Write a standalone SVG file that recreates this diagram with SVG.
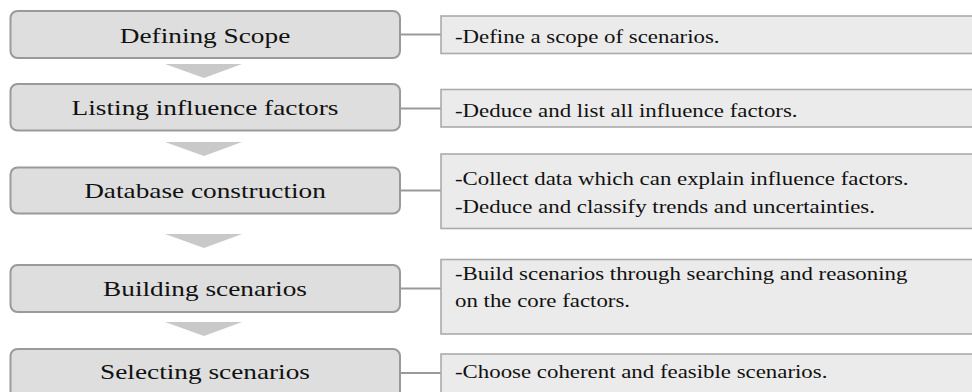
<svg xmlns="http://www.w3.org/2000/svg" width="972" height="392" viewBox="0 0 972 392">
  <style>
    .step rect { fill: #dedede; stroke: #9a9a9a; stroke-width: 2; }
    .note rect { fill: #ebebeb; stroke: #ababab; stroke-width: 1.6; }
    .link { stroke: #9a9a9a; stroke-width: 2; fill: none; }
    .flow { fill: #c9c9c9; }
    text { font-family: 'Liberation Serif', 'Times New Roman', Times, serif; fill: #111; }
    .stepText { font-size: 21.5px; text-anchor: middle; }
    .noteText { font-size: 18px; }
  </style>
  <rect width="972" height="392" fill="#ffffff"/>

  <!-- flow arrows between steps -->
  <g id="flow-arrows">
    <polygon class="flow" points="165,64 242,64 204,78"/>
    <polygon class="flow" points="165,142 242,142 204,156"/>
    <polygon class="flow" points="165,234 242,234 204,248"/>
    <polygon class="flow" points="165,322 242,322 204,336"/>
  </g>

  <!-- connectors from steps to descriptions -->
  <g id="connectors">
    <line class="link" x1="400" y1="34.5" x2="441" y2="34.5"/>
    <line class="link" x1="400" y1="108.5" x2="441" y2="108.5"/>
    <line class="link" x1="400" y1="190.5" x2="441" y2="190.5"/>
    <line class="link" x1="400" y1="288.5" x2="441" y2="288.5"/>
    <line class="link" x1="400" y1="373" x2="441" y2="373"/>
  </g>

  <!-- steps -->
  <g id="step-scope" class="step">
    <rect x="10.5" y="11" width="389.5" height="47" rx="7"/>
    <text class="stepText" font-family="Liberation Serif, serif" transform="translate(205,42.7) scale(1.27,1)">Defining Scope</text>
  </g>
  <g id="step-factors" class="step">
    <rect x="10.5" y="84" width="389.5" height="46.5" rx="7"/>
    <text class="stepText" font-family="Liberation Serif, serif" transform="translate(205,114.5) scale(1.27,1)">Listing influence factors</text>
  </g>
  <g id="step-database" class="step">
    <rect x="10.5" y="167.5" width="389.5" height="46" rx="7"/>
    <text class="stepText" font-family="Liberation Serif, serif" transform="translate(205,198.3) scale(1.27,1)">Database construction</text>
  </g>
  <g id="step-building" class="step">
    <rect x="10.5" y="265" width="389.5" height="47" rx="7"/>
    <text class="stepText" font-family="Liberation Serif, serif" transform="translate(205,295.5) scale(1.27,1)">Building scenarios</text>
  </g>
  <g id="step-selecting" class="step">
    <rect x="10.5" y="349" width="389.5" height="60" rx="7"/>
    <text class="stepText" font-family="Liberation Serif, serif" transform="translate(205,378.5) scale(1.27,1)">Selecting scenarios</text>
  </g>

  <!-- descriptions -->
  <g id="note-scope" class="note">
    <rect x="441" y="16" width="560" height="37.5"/>
    <text class="noteText" font-family="Liberation Serif, serif" transform="translate(455,43.3) scale(1.27,1)">-Define a scope of scenarios.</text>
  </g>
  <g id="note-factors" class="note">
    <rect x="441" y="89.5" width="560" height="37.5"/>
    <text class="noteText" font-family="Liberation Serif, serif" transform="translate(455,116.7) scale(1.27,1)">-Deduce and list all influence factors.</text>
  </g>
  <g id="note-database" class="note">
    <rect x="441" y="154" width="560" height="74.5"/>
    <text class="noteText" font-family="Liberation Serif, serif" transform="translate(455,185) scale(1.27,1)">-Collect data which can explain influence factors.</text>
    <text class="noteText" font-family="Liberation Serif, serif" transform="translate(455,213.3) scale(1.27,1)">-Deduce and classify trends and uncertainties.</text>
  </g>
  <g id="note-building" class="note">
    <rect x="441" y="259.5" width="560" height="74.5"/>
    <text class="noteText" font-family="Liberation Serif, serif" transform="translate(455,280) scale(1.27,1)">-Build scenarios through searching and reasoning</text>
    <text class="noteText" font-family="Liberation Serif, serif" transform="translate(455,306.7) scale(1.27,1)">on the core factors.</text>
  </g>
  <g id="note-selecting" class="note">
    <rect x="441" y="354" width="560" height="50"/>
    <text class="noteText" font-family="Liberation Serif, serif" transform="translate(455,377.5) scale(1.27,1)">-Choose coherent and feasible scenarios.</text>
  </g>
</svg>
